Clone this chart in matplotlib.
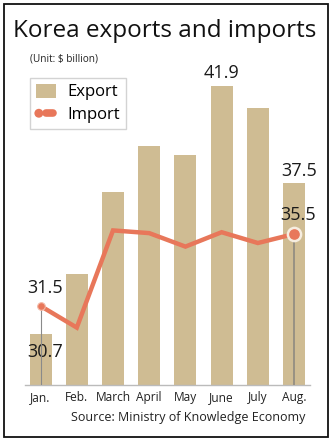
import matplotlib
matplotlib.use('Agg')
from matplotlib import pyplot as plt
from matplotlib.patches import Patch, Rectangle, Circle
from matplotlib.lines import Line2D
from matplotlib.legend_handler import HandlerBase

# data
MONTHS = ['Jan.', 'Feb.', 'March', 'April', 'May', 'June', 'July', 'Aug.']
EXPORTS = [30.7, 33.4, 37.1, 39.2, 38.8, 41.9, 40.9, 37.5]
IMPORTS = [31.5, 30.3, 35.7, 35.55, 34.8, 35.6, 35.0, 35.5]

BAR_COLOR = '#CFBC93'
LINE_COLOR = '#E8775A'

plt.rcParams['font.family'] = ['Open Sans', 'DejaVu Sans']


class HandlerDotDash(HandlerBase):
    # circle on the left, short thick dash on the right
    def create_artists(self, legend, orig_handle, xdescent, ydescent,
                       width, height, fontsize, trans):
        cy = height / 2 - ydescent
        dot = Circle((width * 0.15, cy), 3.2, facecolor=LINE_COLOR,
                     edgecolor='none', transform=trans)
        dash = Line2D([width * 0.5, width * 0.85], [cy, cy], color=LINE_COLOR,
                      lw=5.5, solid_capstyle='round', transform=trans)
        return [dot, dash]


W, H = 333, 443
fig = plt.figure(figsize=(W / 100, H / 100), dpi=100)

# axes placed in pixel terms
left, right, top, bottom = 25, 310, 60, 385
ax = fig.add_axes([left / W, 1 - bottom / H, (right - left) / W, (bottom - top) / H])
x = list(range(len(MONTHS)))
ax.bar(x, EXPORTS, width=0.61, color=BAR_COLOR, zorder=1)
ax.set_xlim(-0.43, 7.44)
ax.set_ylim(28.39, 43.08)
ax.set_yticks([])
ax.set_xticks(x)
ax.set_xticklabels(MONTHS, fontsize=8.6)
ax.tick_params(axis='x', length=0, pad=4.5, colors='#222222')
for s in ['top', 'left', 'right']:
    ax.spines[s].set_visible(False)
ax.spines['bottom'].set_color('#bbbbbb')
ax.spines['bottom'].set_linewidth(1.0)
ax.patch.set_alpha(0)

# export labels
lbl = dict(fontsize=13, color='#1a1a1a', ha='center', va='center')
ax.annotate('41.9', (5, EXPORTS[5]), xytext=(0, 9.5), textcoords='offset points', **lbl)
ax.annotate('37.5', (7, EXPORTS[7]), xytext=(3.5, 9), textcoords='offset points', **lbl)
ax.annotate('30.7', (0, EXPORTS[0]), xytext=(3, -13), textcoords='offset points', **lbl)

# import line on its own scale
ax2 = ax.twinx()
ax2.set_ylim(27.11, 45.17)
ax2.axis('off')
ax2.vlines([0], 27.11, IMPORTS[0], color='#8a8a8a', lw=0.8, zorder=1)
ax2.vlines([7], 27.11, IMPORTS[7], color='#8f8a80', lw=1.2, zorder=1)
ax2.plot(x, IMPORTS, color=LINE_COLOR, lw=3.2, solid_joinstyle='miter', zorder=2)
ax2.plot([0], [IMPORTS[0]], 'o', ms=5.5, mfc=LINE_COLOR, mec='#f3b9a6', mew=0.8, zorder=3)
ax2.plot([7], [IMPORTS[7]], 'o', ms=9.5, mfc=LINE_COLOR, mec='#f6ede0', mew=1.8, zorder=3)
ax2.annotate('35.5', (7, IMPORTS[7]), xytext=(3, 13.5), textcoords='offset points', **lbl)
ax2.annotate('31.5', (0, IMPORTS[0]), xytext=(3, 13), textcoords='offset points', **lbl)

# legend
handles = [Patch(facecolor=BAR_COLOR, edgecolor='none'), Line2D([], [])]
leg = fig.legend(handles, ['Export', 'Import'], loc='upper left',
                 bbox_to_anchor=(30 / W, 1 - 78 / H), borderaxespad=0,
                 fontsize=12, frameon=True, fancybox=False,
                 handlelength=1.2, handleheight=0.9, handletextpad=0.7,
                 labelspacing=0.35, borderpad=0.35,
                 handler_map={Line2D: HandlerDotDash()})
leg.get_frame().set_edgecolor('#c8c8c8')
leg.get_frame().set_linewidth(1.0)

# texts
fig.text(13 / W, 1 - 37 / H, 'Korea exports and imports', fontsize=17.5,
         ha='left', va='baseline', color='#111111')
fig.text(30 / W, 1 - 59 / H, '(Unit: $ billion)', fontsize=7.2,
         ha='left', va='center', color='#222222')
fig.text(305 / W, 1 - 418 / H, 'Source: Ministry of Knowledge Economy',
         fontsize=9, ha='right', va='center', color='#222222')

# outer frame
fig.patches.append(Rectangle((4 / W, 6 / H), 324 / W, 433 / H, transform=fig.transFigure,
                             fill=False, edgecolor='#111111', linewidth=1.3))

fig.savefig('out.png', dpi=100)
